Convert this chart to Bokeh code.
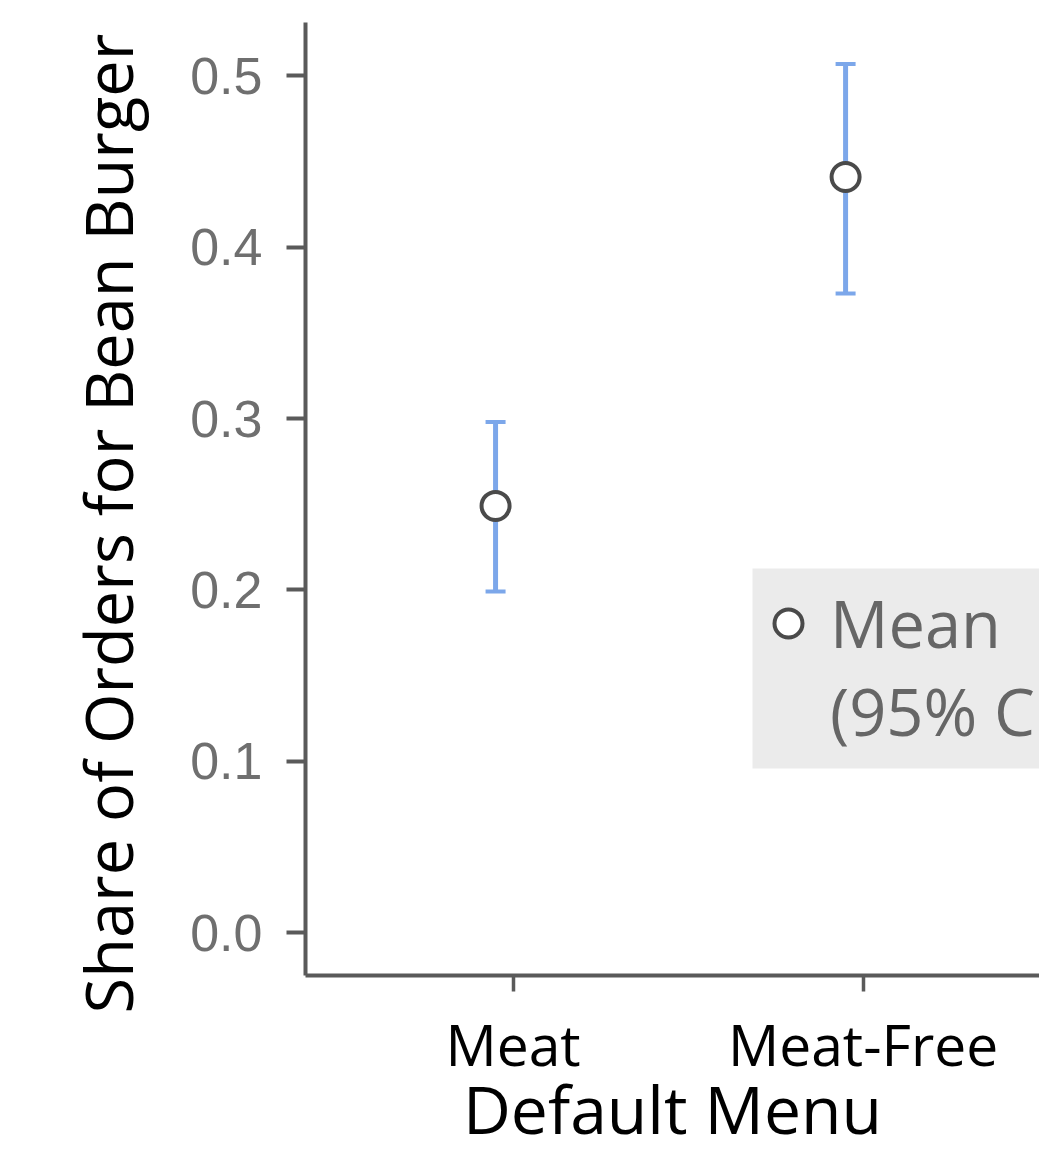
from bokeh.plotting import figure
from bokeh.models import (Range1d, FixedTicker, Whisker, TeeHead, Legend, Title,
                          LegendItem, BoxAnnotation, ColumnDataSource, NumeralTickFormatter)
from bokeh.embed import file_html
from bokeh.resources import INLINE

# ---- data ----
categories = ["Meat", "Meat-Free"]
means = [0.249, 0.441]
ci_lower = [0.199, 0.373]
ci_upper = [0.298, 0.507]
y_ticks = [0.0, 0.1, 0.2, 0.3, 0.4, 0.5]
y_label = "Share of Orders for Bean Burger"
x_label = "Default Menu"
legend_lines = ["Mean", "(95% CI)"]

xs = [i + 1 for i in range(len(categories))]
tick_offset = 0.05
tick_pos = [round(v + tick_offset, 3) for v in xs]

src = ColumnDataSource(dict(x=xs, mean=means, lower=ci_lower, upper=ci_upper))

BLUE = "#7ca7ea"
AXIS = "#5a5a5a"

p = figure(width=1039, height=1156, output_backend="svg", toolbar_location=None,
           x_range=Range1d(0.457, 2.554), y_range=Range1d(-0.0251, 0.5312),
           min_border_left=305, min_border_top=22, min_border_right=0,
           min_border_bottom=181)
p.outline_line_color = None
p.xgrid.visible = False
p.ygrid.visible = False
p.background_fill_color = "white"
p.border_fill_color = "white"

# y axis
p.yaxis.ticker = FixedTicker(ticks=y_ticks)
p.yaxis.formatter = NumeralTickFormatter(format="0.0")
p.yaxis.axis_line_color = AXIS
p.yaxis.axis_line_width = 4
p.yaxis.major_tick_line_color = AXIS
p.yaxis.major_tick_line_width = 4
p.yaxis.major_tick_out = 19
p.yaxis.major_tick_in = 0
p.yaxis.minor_tick_line_color = None
p.yaxis.major_label_text_font = "Liberation Sans"
p.yaxis.major_label_text_font_size = "52px"
p.yaxis.major_label_text_color = "#6f6f6f"
p.yaxis.major_label_standoff = 24

# x axis
p.xaxis.ticker = FixedTicker(ticks=tick_pos)
p.xaxis.major_label_overrides = {t: c for t, c in zip(tick_pos, categories)}
p.xaxis.axis_line_color = AXIS
p.xaxis.axis_line_width = 4
p.xaxis.major_tick_line_color = AXIS
p.xaxis.major_tick_line_width = 3.5
p.xaxis.major_tick_out = 16
p.xaxis.major_tick_in = 0
p.xaxis.minor_tick_line_color = None
p.xaxis.major_label_text_font = "Open Sans"
p.xaxis.major_label_text_font_size = "57px"
p.xaxis.major_label_text_color = "black"
p.xaxis.major_label_standoff = 13
p.xaxis.axis_label = x_label
p.xaxis.axis_label_text_font = "Open Sans"
p.xaxis.axis_label_text_font_size = "66px"
p.xaxis.axis_label_text_font_style = "normal"
p.xaxis.axis_label_text_color = "black"
p.xaxis.axis_label_standoff = -23

# y label as a side title
p.add_layout(Title(text=y_label, align="left", offset=-38, standoff=72,
                   text_font="Open Sans", text_font_size="65px",
                   text_font_style="normal", text_color="black"), "left")

# error bars
p.add_layout(Whisker(base="x", lower="lower", upper="upper", source=src,
                     line_color=BLUE, line_width=5,
                     upper_head=TeeHead(size=20, line_color=BLUE, line_width=4),
                     lower_head=TeeHead(size=20, line_color=BLUE, line_width=4)))

pts = p.scatter("x", "mean", source=src, size=28, fill_color="white",
                line_color="#4a4a4a", line_width=4)
ghost = p.scatter(x=[], y=[], alpha=0)

# legend background box
p.add_layout(BoxAnnotation(left=447, right=900, bottom=207, top=407,
                           left_units="screen", right_units="screen",
                           bottom_units="screen", top_units="screen",
                           fill_color="#ebebeb", fill_alpha=1, line_color=None))

legend = Legend(items=[LegendItem(label=legend_lines[0], renderers=[pts]),
                       LegendItem(label=legend_lines[1], renderers=[ghost])],
                location=(448, 220), margin=0, padding=4, spacing=0,
                glyph_width=70, glyph_height=88, label_standoff=7,
                label_text_font="Open Sans", label_text_font_size="65px",
                label_text_color="#666666", background_fill_alpha=0,
                border_line_color=None)
p.add_layout(legend)

open("out.html", "w").write(file_html(p, INLINE))
